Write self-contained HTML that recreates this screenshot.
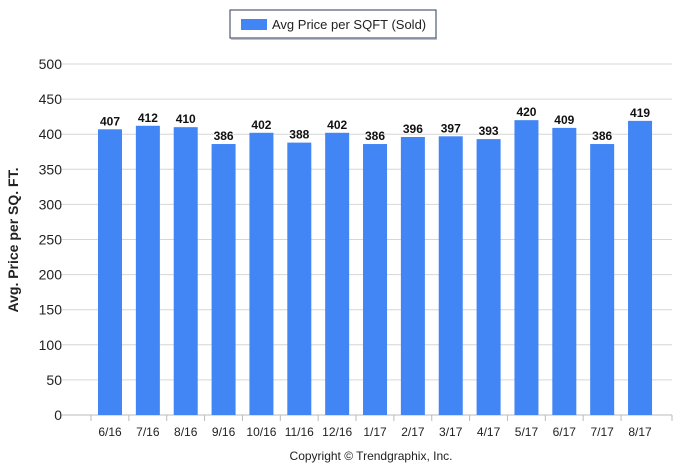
<!DOCTYPE html>
<html><head><meta charset="utf-8"><style>
body{margin:0;background:#fff;font-family:"Liberation Sans",Arial,sans-serif;}
svg text{font-family:"Liberation Sans",Arial,sans-serif;}
</style></head><body>
<svg width="681" height="464">
<g>
<rect x="230" y="10" width="206" height="28" fill="#fff" stroke="#2b3a55" stroke-width="1"/>
<line x1="231" y1="39" x2="437" y2="39" stroke="#aab" stroke-width="1.5"/>
<rect x="241" y="19" width="26" height="11" fill="#4285f4"/>
<text x="272" y="29" font-size="13" fill="#222">Avg Price per SQFT (Sold)</text>
</g>
<g id="grid"></g><g id="bars"></g>
<text transform="translate(18,240) rotate(-90)" text-anchor="middle" font-size="14" font-weight="bold" fill="#222">Avg. Price per SQ. FT.</text>
<text x="371" y="460" text-anchor="middle" font-size="12" fill="#222">Copyright © Trendgraphix, Inc.</text>
</svg>
<script>
const categories=["6/16","7/16","8/16","9/16","10/16","11/16","12/16","1/17","2/17","3/17","4/17","5/17","6/17","7/17","8/17"];
const values=[407,412,410,386,402,388,402,386,396,397,393,420,409,386,419];
const yTicks=[0,50,100,150,200,250,300,350,400,450,500];
const NS="http://www.w3.org/2000/svg";
const y0=415,y1=64,x0=66,x1=672;
const ys=v=>y0-(v/500)*(y0-y1);
const xs=i=>110+i*37.86;
const grid=document.getElementById('grid'),bars=document.getElementById('bars');
function mk(tag,at,parent){const e=document.createElementNS(NS,tag);for(const k in at)e.setAttribute(k,at[k]);parent.appendChild(e);return e;}
yTicks.forEach(t=>{
 const l=mk('line',{x1:x0-4,x2:x1,y1:ys(t),y2:ys(t),stroke:t===0?'#bbb':'#d6d6d6','stroke-width':1},grid);
 
 
 const tx=mk('text',{x:62,y:ys(t)+5,'text-anchor':'end','font-size':14,fill:'#222'},grid);
 tx.textContent=t;
 
 
});
mk('line',{x1:x1,x2:x1,y1:y0,y2:y0+6,stroke:'#bbb'},grid);
categories.forEach((c,i)=>{
 const v=values[i];
 const r=mk('rect',{x:xs(i)-12,y:ys(v),width:24,height:y0-ys(v),fill:'#4285f4'},bars);
 
 
 const vl=mk('text',{x:xs(i),y:ys(v)-4,'text-anchor':'middle','font-size':12,'font-weight':'bold',fill:'#111'},bars);
 vl.textContent=v;
 
 
 const tk=mk('line',{x1:xs(i)-19,x2:xs(i)-19,y1:y0,y2:y0+6,stroke:'#bbb'},bars);
 
 
 const xl=mk('text',{x:xs(i),y:436,'text-anchor':'middle','font-size':12,fill:'#222'},bars);
 xl.textContent=c;
 
 
});
</script>
</body></html>
